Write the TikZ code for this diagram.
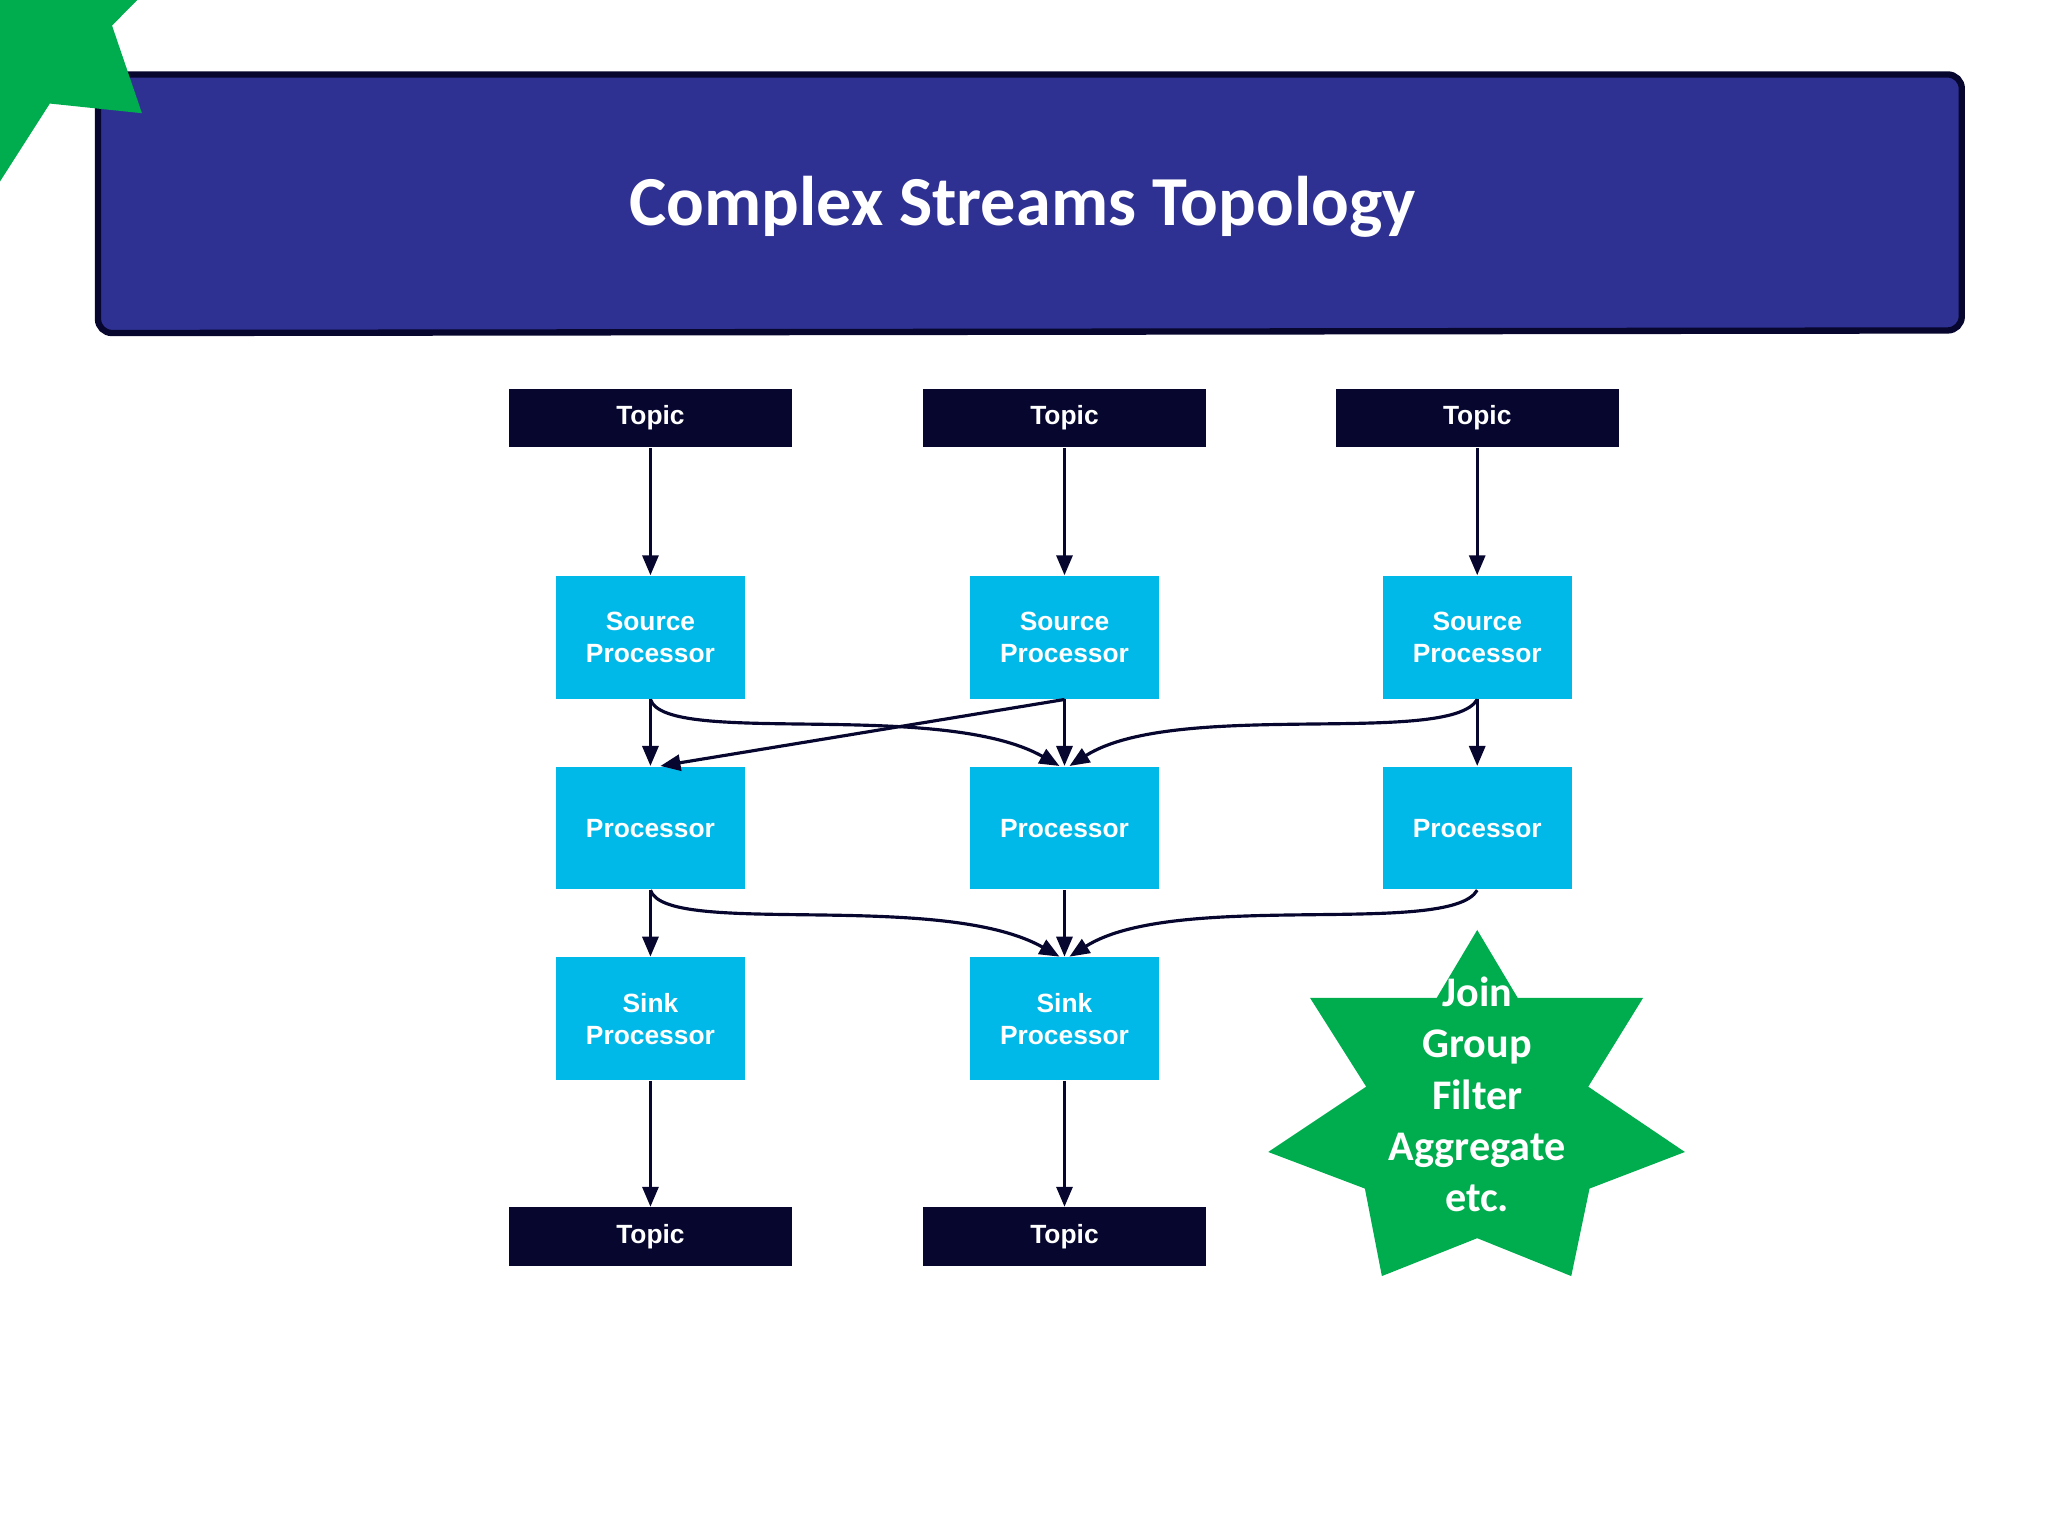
\documentclass[tikz,border=0pt]{standalone}
\usepackage{fontspec}
\usepackage{tikz}
\usetikzlibrary{arrows.meta, positioning}
\newfontfamily\boxfont{Liberation Sans}
\newfontfamily\titlefont{Carlito}
\definecolor{headblue}{HTML}{2F3192}
\definecolor{navy}{HTML}{06062E}
\definecolor{procblue}{HTML}{00B9E8}
\definecolor{stargreen}{HTML}{00AD4E}

\begin{document}
\begin{tikzpicture}[x=0.01306cm, y=-0.01306cm, >={Triangle[length=2mm,width=1.6mm]}]

		\tikzset{
			topic/.style={
					rectangle, fill=navy, text=white, inner sep=0pt, minimum width=2.834cm, minimum height=0.588cm, font=\boxfont\bfseries\fontsize{7.5}{9}\selectfont
				},
			proc/.style={
					rectangle, fill=procblue, text=white, inner sep=0pt, minimum width=1.894cm, minimum height=1.228cm, align=center, font=\boxfont\bfseries\fontsize{7.5}{9}\selectfont
				},
			link/.style={
					->, draw=navy, line width=0.9pt
				},
		}
		\useasboundingbox (0,0) rectangle (1568,1177);

		% header
		\draw[fill=headblue, draw=navy, line width=1.8pt, rounded corners=4pt] (75,255) -- (75,57) -- (1502,57) -- (1502,253) -- cycle;
		\node[text=white, font=\titlefont\bfseries\fontsize{20}{24}\selectfont] (title) at (783,158) {Complex Streams Topology};

		% columns
		\foreach \i/\x in {1/498,2/815,3/1131}{
			\node[topic] (t\i) at (\x,320) {Topic};
			\node[proc] (s\i) at (\x,488) {Source\\Processor};
			\node[proc] (p\i) at (\x,634) {Processor};
		}
		\foreach \i/\x in {1/498,2/815}{
			\node[proc] (k\i) at (\x,780) {Sink\\Processor};
			\node[topic] (o\i) at (\x,947) {Topic};
		}

		% star
		\fill[stargreen] (90:139)
			\foreach \k in {1,...,7}{ -- ({90+\k*51.43-25.71}:88) -- ({90+\k*51.43}:139) } -- cycle;
		\fill[stargreen] (1131,851) ++(-90:139)
			\foreach \k in {1,...,7}{ -- ++(0,0) } ;
		\path[fill=stargreen] (1131,712) -- (1162,764) -- (1258,764) -- (1216,832) -- (1290,882) -- (1217,910) -- (1203,977) -- (1131,948) -- (1058,977) -- (1045,910) -- (971,882) -- (1046,832) -- (1003,764) -- (1100,764) -- cycle;
		\node[text=white, align=center, font=\titlefont\bfseries\fontsize{12}{14.6}\selectfont] (ops) at (1131,838) {Join\\Group\\Filter\\Aggregate\\etc.};

		% straight links
		\foreach \i in {1,2,3}{
			\draw[link] (t\i) -- (s\i);
			\draw[link] (s\i) -- (p\i);
		}
		\foreach \i in {1,2}{
			\draw[link] (p\i) -- (k\i);
			\draw[link] (k\i) -- (o\i);
		}

		% crossing links
		\draw[link] (s1.south) .. controls (510,572) and (720,535) .. ([xshift=-0.05cm]p2.north);
		\draw[link] (s2.south) -- ([xshift=0.1cm]p1.north);
		\draw[link] (s3.south) .. controls (1110,572) and (900,535) .. ([xshift=0.05cm]p2.north);
		\draw[link] (p1.south) .. controls (510,718) and (720,681) .. ([xshift=-0.05cm]k2.north);
		\draw[link] (p3.south) .. controls (1110,718) and (900,681) .. ([xshift=0.05cm]k2.north);

	\end{tikzpicture}
\end{document}
